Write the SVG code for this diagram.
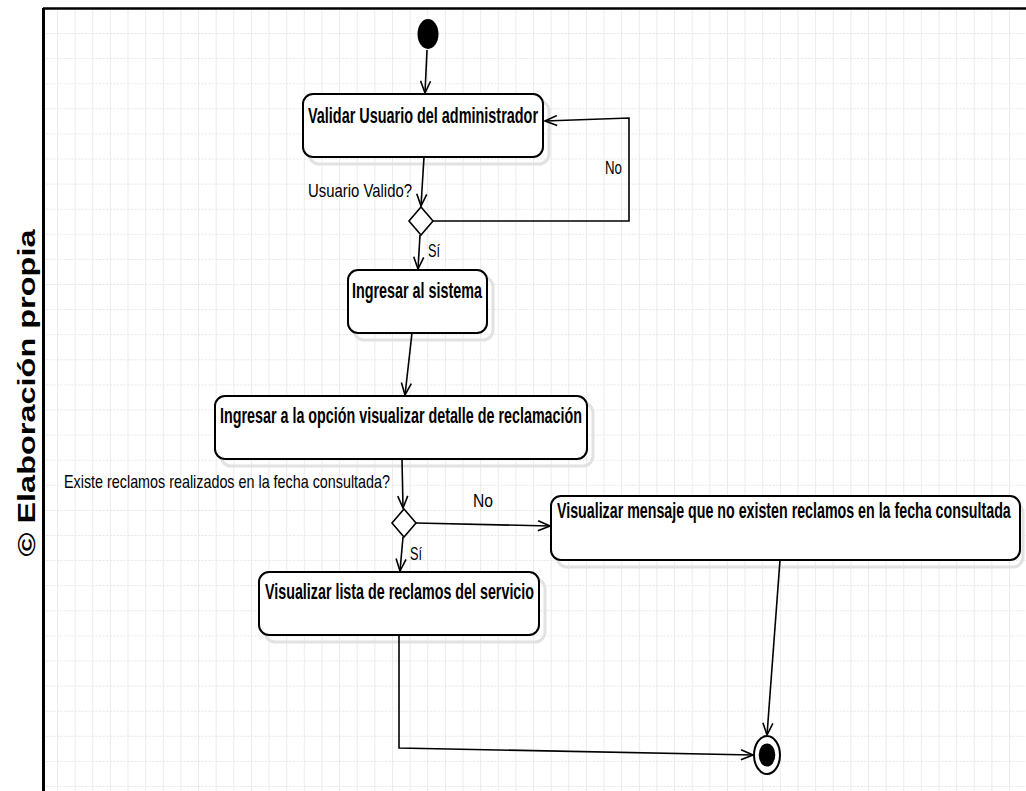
<svg xmlns="http://www.w3.org/2000/svg" width="1026" height="791" viewBox="0 0 1026 791">
<style>
.node{fill:#fff;stroke:#000;stroke-width:2}
.shadow{fill:none;stroke:#e2e2e2;stroke-width:3}
.lbl{font-family:"Liberation Sans",Arial,sans-serif;font-weight:bold;font-size:22px;fill:#000}
.elbl{font-family:"Liberation Sans",Arial,sans-serif;font-size:19px;fill:#000}
.edge{fill:none;stroke:#000;stroke-width:1.6}
</style>
<defs>
<pattern id="grid" x="57" y="33" width="17.63" height="25.1" patternUnits="userSpaceOnUse">
<path d="M0.5,0 V25.1" stroke="#ebebeb" stroke-width="1"/>
<path d="M0,0.5 H17.63" stroke="#e4e4e4" stroke-width="1" stroke-dasharray="2,1.5"/>
</pattern>
<marker id="arr" markerUnits="userSpaceOnUse" markerWidth="14" markerHeight="12" viewBox="0 0 14 12" refX="13" refY="6" orient="auto">
<path d="M1,1 L13,6 L1,11" fill="none" stroke="#000" stroke-width="1.6"/>
</marker>
</defs>
<rect x="0" y="0" width="1026" height="791" fill="#fff"/>
<rect x="44" y="9" width="982" height="782" fill="url(#grid)"/>
<path d="M43,8.5 H1026" stroke="#000" stroke-width="2.5"/>
<path d="M43.5,8 V791" stroke="#000" stroke-width="3"/>
<text class="lbl" text-anchor="middle" textLength="327" lengthAdjust="spacingAndGlyphs" transform="translate(35,393) rotate(-90)" style="font-size:23px">© Elaboración propia</text>

<g id="start">
<ellipse cx="428" cy="34" rx="10.5" ry="15" fill="#000"/>
</g>
<g id="n1">
<rect class="shadow" x="309" y="101" width="240" height="63" rx="10"/>
<rect class="node" x="303" y="94" width="240" height="63" rx="10"/>
<text class="lbl" x="308" y="123" textLength="230" lengthAdjust="spacingAndGlyphs">Validar Usuario del administrador</text>
</g>
<g id="d1">
<polygon class="node" points="421,207 433,221 421,235 409,221" style="stroke-width:1.6"/>
</g>
<g id="n2">
<rect class="shadow" x="354" y="277" width="139" height="63" rx="10"/>
<rect class="node" x="348" y="270" width="139" height="63" rx="10"/>
<text class="lbl" x="352" y="298" textLength="130" lengthAdjust="spacingAndGlyphs">Ingresar al sistema</text>
</g>
<g id="n3">
<rect class="shadow" x="221" y="403" width="372" height="63" rx="10"/>
<rect class="node" x="215" y="396" width="372" height="63" rx="10"/>
<text class="lbl" x="220" y="423" textLength="362" lengthAdjust="spacingAndGlyphs">Ingresar a la opción visualizar detalle de reclamación</text>
</g>
<g id="d2">
<polygon class="node" points="404,509 416,523 404,537 392,523" style="stroke-width:1.6"/>
</g>
<g id="n4">
<rect class="shadow" x="557" y="503" width="466" height="64" rx="10"/>
<rect class="node" x="551" y="496" width="469" height="64" rx="10"/>
<text class="lbl" transform="translate(557,518) scale(0.64,1)" textLength="709" lengthAdjust="spacingAndGlyphs">Visualizar mensaje que no existen reclamos en la fecha consultada</text>
</g>
<g id="n5">
<rect class="shadow" x="265" y="579" width="280" height="63" rx="10"/>
<rect class="node" x="259" y="572" width="280" height="63" rx="10"/>
<text class="lbl" x="265" y="599" textLength="269" lengthAdjust="spacingAndGlyphs">Visualizar lista de reclamos del servicio</text>
</g>
<g id="end">
<ellipse cx="767" cy="755" rx="13" ry="19" fill="#fff" stroke="#000" stroke-width="2"/>
<ellipse cx="767" cy="755" rx="8.3" ry="11.5" fill="#000"/>
</g>

<g id="connectors">
<path class="edge" d="M427,50 L425,93" marker-end="url(#arr)"/>
<path class="edge" d="M424,157 L421,206" marker-end="url(#arr)"/>
<path class="edge" d="M433,221 L629,221 L629,118 L545,121" marker-end="url(#arr)"/>
<path class="edge" d="M420,235 L418,269" marker-end="url(#arr)"/>
<path class="edge" d="M412,333 L405,395" marker-end="url(#arr)"/>
<path class="edge" d="M402,459 L403,508" marker-end="url(#arr)"/>
<path class="edge" d="M416,523 L550,526" marker-end="url(#arr)"/>
<path class="edge" d="M403,537 L400,571" marker-end="url(#arr)"/>
<path class="edge" d="M399,635 L399,748 L753,755" marker-end="url(#arr)"/>
<path class="edge" d="M780,560 L767,735" marker-end="url(#arr)"/>
<text class="elbl" x="308" y="197" textLength="104" lengthAdjust="spacingAndGlyphs">Usuario Valido?</text>
<text class="elbl" x="605" y="174" textLength="17" lengthAdjust="spacingAndGlyphs">No</text>
<text class="elbl" x="428" y="257" textLength="12" lengthAdjust="spacingAndGlyphs">Sí</text>
<text class="elbl" x="64" y="488" textLength="326" lengthAdjust="spacingAndGlyphs">Existe reclamos realizados en la fecha consultada?</text>
<text class="elbl" x="473" y="507" textLength="20" lengthAdjust="spacingAndGlyphs">No</text>
<text class="elbl" x="410" y="560" textLength="12" lengthAdjust="spacingAndGlyphs">Sí</text>
</g>
</svg>
